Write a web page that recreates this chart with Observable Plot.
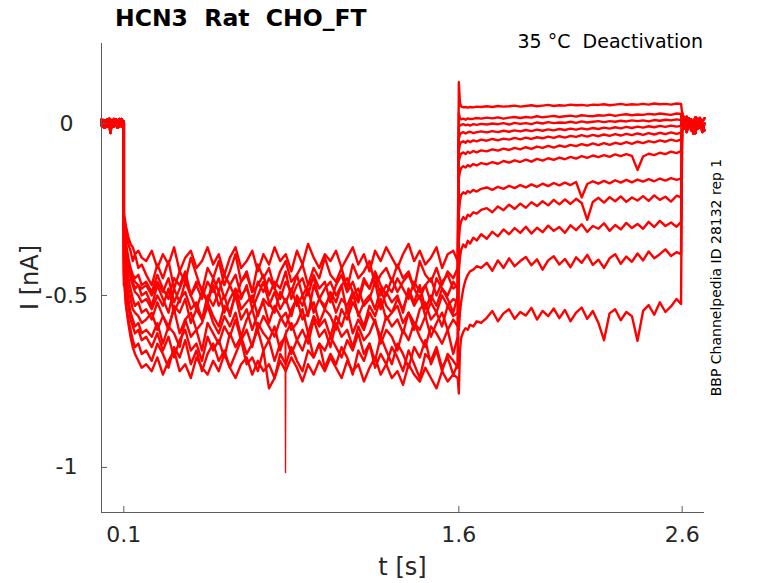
<!DOCTYPE html>
<html><head><meta charset="utf-8">
<script src="https://cdn.jsdelivr.net/npm/d3@7"></script>
<script src="https://cdn.jsdelivr.net/npm/@observablehq/plot@0.6"></script>
<style>body{margin:0;background:#fff}#chart{width:778px;height:583px}</style>
</head><body><div id="chart"></div>
<script>
// ---- text ----
const titleText = "HCN3  Rat  CHO_FT";
const conditionText = "35 °C  Deactivation";
const sideText = "BBP Channelpedia ID 28132 rep 1";
const xLabel = "t [s]";
const yLabel = "I [nA]";
const xTicks = [0.1, 1.6, 2.6];
const xTickLabels = ["0.1", "1.6", "2.6"];
const yTicks = [0, -0.5, -1];
const yTickLabels = ["0", "-0.5", "-1"];
const xDomain = [0, 2.7];
const yDomain = [-1.131, 0.2326];

// ---- time bases (s) ----
const tHold = [0,0.005,0.01,0.015,0.02,0.025,0.03,0.035,0.04,0.045,0.05,0.055,0.06,0.065,0.07,0.075,0.08,0.085,0.09,0.095,0.1];
const tPre = [0.1,0.105,0.11,0.12,0.13,0.14,0.15,0.165,0.18,0.2,
  0.225,0.25,0.275,0.3,0.325,0.35,0.375,0.4,0.425,0.45,0.475,
  0.5,0.525,0.55,0.575,0.6,0.625,0.65,0.675,0.7,0.725,0.75,
  0.775,0.8,0.825,0.85,0.875,0.9,0.925,0.95,0.975,1.0,1.025,
  1.05,1.075,1.1,1.125,1.15,1.175,1.2,1.225,1.25,1.275,1.3,
  1.325,1.35,1.375,1.4,1.425,1.45,1.475,1.5,1.525,1.55,1.575,
  1.595];
const tPost = [1.6,1.605,1.61,1.62,1.63,1.64,1.65,1.665,1.68,1.7,
  1.725,1.75,1.775,1.8,1.825,1.85,1.875,
  1.9,1.925,1.95,1.975,2.0,2.025,2.05,
  2.075,2.1,2.125,2.15,2.175,2.2,2.225,
  2.25,2.275,2.3,2.325,2.35,2.375,2.4,
  2.425,2.45,2.475,2.5,2.525,2.55,2.575,
  2.595];
const tEnd = [2.6,2.61,2.62,2.63,2.64,2.65,2.66,2.67,2.68,2.69,2.7];

// ---- holding current before the step (nA) ----
const holdA = [0.004,-0.008,0.010,-0.004,0.006,-0.010,0.012,-0.002,-0.028,-0.006,0.008,-0.009,0.011,-0.003,0.007,-0.011,0.013,-0.005,0.009,-0.007,0.002];
const holdB = [-0.006,0.009,-0.011,0.007,-0.003,0.012,-0.008,0.005,-0.010,0.010,-0.004,0.013,-0.007,0.009,-0.012,0.006,-0.002,0.011,-0.009,0.008,-0.001];
const holdC = [0.012,-0.003,0.006,-0.012,0.009,0.002,-0.006,0.014,-0.015,0.004,-0.008,0.006,-0.002,0.012,-0.005,0.010,-0.009,0.003,0.013,-0.004,0.006];

// ---- tail after return (nA) ----
const tailA = [0.03,0.01,-0.01,0.015,-0.02,0.005,0.018,-0.015,0.01,-0.025,0.0];
const tailB = [-0.02,0.015,-0.025,0.0,0.012,-0.03,0.008,-0.01,0.016,-0.005,-0.02];
const tailC = [0.0,-0.015,0.02,-0.008,0.01,-0.02,-0.028,0.014,-0.012,0.006,0.015];

// ---- activation step (0.1–1.6 s), one array per sweep ----
const pre1 = [-0.27,-0.30,-0.32,-0.35,-0.37,-0.40,-0.38,-0.42,-0.41,-0.44,
  -0.47,-0.41,-0.45,-0.40,-0.48,-0.43,-0.46,-0.39,-0.44,-0.49,-0.42,
  -0.45,-0.40,-0.47,-0.43,-0.38,-0.46,-0.44,-0.49,-0.41,-0.45,-0.42,
  -0.48,-0.43,-0.40,-0.46,-0.44,-0.41,-0.47,-0.42,-0.45,-0.39,-0.44,
  -0.46,-0.42,-0.48,-0.41,-0.45,-0.43,-0.40,-0.47,-0.44,-0.42,-0.46,
  -0.41,-0.45,-0.43,-0.48,-0.40,-0.44,-0.46,-0.42,-0.47,-0.43,-0.45,
  -0.42];
const pre2 = [-0.30,-0.34,-0.37,-0.41,-0.44,-0.46,-0.48,-0.47,-0.50,-0.49,
  -0.53,-0.47,-0.51,-0.55,-0.48,-0.52,-0.46,-0.50,-0.54,-0.49,-0.52,
  -0.47,-0.53,-0.50,-0.56,-0.49,-0.51,-0.47,-0.54,-0.50,-0.46,-0.52,
  -0.55,-0.49,-0.52,-0.48,-0.53,-0.50,-0.56,-0.47,-0.51,-0.54,-0.49,
  -0.52,-0.47,-0.55,-0.50,-0.48,-0.53,-0.51,-0.46,-0.54,-0.49,-0.52,
  -0.50,-0.55,-0.48,-0.52,-0.47,-0.54,-0.50,-0.53,-0.48,-0.51,-0.55,
  -0.50];
const pre3 = [-0.26,-0.28,-0.30,-0.33,-0.35,-0.36,-0.38,-0.37,-0.39,-0.40,
  -0.37,-0.42,-0.38,-0.41,-0.36,-0.43,-0.39,-0.37,-0.42,-0.40,-0.36,
  -0.41,-0.38,-0.44,-0.39,-0.36,-0.42,-0.40,-0.37,-0.43,-0.38,-0.41,
  -0.36,-0.40,-0.38,-0.43,-0.37,-0.41,-0.35,-0.39,-0.42,-0.38,-0.40,
  -0.37,-0.42,-0.39,-0.36,-0.41,-0.38,-0.43,-0.37,-0.40,-0.36,-0.39,
  -0.42,-0.38,-0.35,-0.40,-0.37,-0.41,-0.39,-0.36,-0.42,-0.38,-0.37,
  -0.40];
const pre4 = [-0.33,-0.37,-0.41,-0.45,-0.48,-0.51,-0.53,-0.52,-0.55,-0.54,
  -0.57,-0.52,-0.56,-0.60,-0.53,-0.55,-0.51,-0.58,-0.54,-0.57,-0.52,
  -0.56,-0.59,-0.53,-0.55,-0.50,-0.57,-0.54,-0.60,-0.55,-0.52,-0.58,
  -0.53,-0.56,-0.59,-0.54,-0.51,-0.57,-0.55,-0.52,-0.58,-0.54,-0.56,
  -0.60,-0.54,-0.57,-0.52,-0.55,-0.59,-0.53,-0.56,-0.51,-0.57,-0.55,
  -0.53,-0.58,-0.55,-0.60,-0.54,-0.52,-0.57,-0.55,-0.59,-0.53,-0.56,
  -0.55];
const pre5 = [-0.29,-0.32,-0.35,-0.39,-0.42,-0.44,-0.45,-0.44,-0.47,-0.46,
  -0.49,-0.44,-0.48,-0.51,-0.45,-0.47,-0.43,-0.50,-0.46,-0.48,-0.52,
  -0.45,-0.49,-0.44,-0.47,-0.51,-0.46,-0.43,-0.49,-0.47,-0.44,-0.50,
  -0.46,-0.48,-0.43,-0.51,-0.47,-0.45,-0.50,-0.44,-0.48,-0.46,-0.52,
  -0.47,-0.44,-0.49,-0.46,-0.51,-0.45,-0.48,-0.43,-0.47,-0.50,-0.45,
  -0.49,-0.46,-0.44,-0.48,-0.51,-0.47,-0.45,-0.50,-0.46,-0.44,-0.48,
  -0.47];
const pre6 = [-0.38,-0.43,-0.47,-0.51,-0.55,-0.57,-0.59,-0.58,-0.61,-0.60,
  -0.62,-0.58,-0.64,-0.59,-0.61,-0.65,-0.57,-0.62,-0.60,-0.66,-0.58,
  -0.61,-0.64,-0.59,-0.62,-0.57,-0.63,-0.60,-0.65,-0.58,-0.61,-0.63,
  -0.59,-0.66,-0.61,-0.58,-0.63,-0.60,-0.64,-0.57,-0.62,-0.60,-0.65,
  -0.58,-0.62,-0.60,-0.65,-0.59,-0.63,-0.61,-0.57,-0.64,-0.60,-0.62,
  -0.66,-0.60,-0.63,-0.58,-0.62,-0.65,-0.59,-0.61,-0.64,-0.60,-0.67,
  -0.62];
const pre7 = [-0.31,-0.35,-0.38,-0.42,-0.45,-0.47,-0.49,-0.50,-0.52,-0.51,
  -0.54,-0.50,-0.53,-0.48,-0.55,-0.51,-0.49,-0.54,-0.52,-0.57,-0.50,
  -0.53,-0.49,-0.55,-0.51,-0.48,-0.54,-0.52,-0.50,-0.56,-0.51,-0.53,
  -0.49,-0.54,-0.51,-0.56,-0.50,-0.53,-0.48,-0.55,-0.51,-0.53,-0.50,
  -0.55,-0.51,-0.53,-0.49,-0.56,-0.52,-0.50,-0.54,-0.48,-0.53,-0.55,
  -0.51,-0.54,-0.49,-0.53,-0.50,-0.56,-0.52,-0.55,-0.50,-0.53,-0.51,
  -0.52];
const pre8 = [-0.44,-0.49,-0.53,-0.57,-0.60,-0.63,-0.65,-0.64,-0.67,-0.66,
  -0.69,-0.64,-0.67,-0.71,-0.65,-0.68,-0.63,-0.70,-0.66,-0.72,-0.67,
  -0.64,-0.69,-0.66,-0.71,-0.67,-0.63,-0.70,-0.68,-0.72,-0.66,-0.77,
  -0.74,-0.67,-0.70,-0.65,-0.69,-0.72,-0.66,-0.68,-0.64,-0.71,-0.67,
  -0.70,-0.65,-0.68,-0.73,-0.66,-0.69,-0.64,-0.71,-0.67,-0.70,-0.65,
  -0.68,-0.72,-0.66,-0.70,-0.74,-0.67,-0.69,-0.65,-0.71,-0.68,-0.73,
  -0.70];
const pre9 = [-0.35,-0.40,-0.44,-0.48,-0.51,-0.54,-0.55,-0.56,-0.58,-0.57,
  -0.55,-0.60,-0.56,-0.59,-0.54,-0.61,-0.57,-0.55,-0.60,-0.58,-0.53,
  -0.58,-0.61,-0.56,-0.59,-0.55,-0.62,-0.57,-0.54,-0.60,-0.56,-0.59,
  -0.62,-0.57,-0.55,-0.60,-0.58,-0.54,-0.61,-0.56,-0.59,-0.57,-0.62,
  -0.56,-0.59,-0.54,-0.61,-0.57,-0.60,-0.55,-0.58,-0.62,-0.56,-0.59,
  -0.57,-0.61,-0.55,-0.58,-0.60,-0.56,-0.62,-0.58,-0.55,-0.60,-0.57,
  -0.59];
const pre10 = [-0.40,-0.45,-0.49,-0.53,-0.57,-0.59,-0.61,-0.60,-0.63,-0.62,
  -0.65,-0.61,-0.66,-0.62,-0.68,-0.63,-0.60,-0.66,-0.64,-0.69,-0.62,
  -0.66,-0.63,-0.68,-0.61,-0.65,-0.62,-0.67,-0.64,-0.60,-0.66,-0.63,
  -0.69,-0.64,-0.62,-0.67,-0.63,-0.66,-0.61,-0.68,-0.64,-0.66,-0.62,
  -0.65,-0.68,-0.63,-0.66,-0.61,-0.67,-0.64,-0.69,-0.62,-0.66,-0.70,
  -0.64,-0.67,-0.71,-0.65,-0.68,-0.63,-0.70,-0.66,-0.72,-0.67,-0.69,
  -0.71];
const pre11 = [-0.47,-0.38,-0.39,-0.41,-0.43,-0.45,-0.46,-0.47,-0.48,-0.47,
  -0.50,-0.46,-0.49,-0.45,-0.52,-0.48,-0.44,-0.50,-0.47,-0.51,-0.46,
  -0.49,-0.45,-0.51,-0.47,-0.44,-0.50,-0.48,-0.52,-0.46,-0.49,-0.45,
  -0.48,-0.51,-0.46,-0.49,-0.44,-0.50,-0.47,-0.45,-0.51,-0.48,-0.46,
  -0.50,-0.47,-0.45,-0.49,-0.52,-0.46,-0.48,-0.44,-0.50,-0.47,-0.49,
  -0.45,-0.48,-0.51,-0.46,-0.49,-0.47,-0.52,-0.45,-0.48,-0.50,-0.46,
  -0.48];
const pre12 = [-0.42,-0.48,-0.53,-0.58,-0.62,-0.65,-0.67,-0.69,-0.71,-0.70,
  -0.72,-0.68,-0.73,-0.69,-0.66,-0.72,-0.70,-0.74,-0.68,-0.71,-0.73,
  -0.69,-0.72,-0.67,-0.71,-0.74,-0.70,-0.68,-0.73,-0.69,-0.72,-0.70,
  -0.74,-0.69,-0.72,-0.68,-0.71,-0.75,-0.70,-0.73,-0.69,-0.72,-0.68,
  -0.71,-0.74,-0.69,-0.72,-0.70,-0.75,-0.71,-0.68,-0.73,-0.70,-0.74,
  -0.72,-0.76,-0.70,-0.73,-0.75,-0.71,-0.74,-0.77,-0.72,-0.75,-0.73,
  -0.74];

// ---- deactivation step (1.6–2.6 s) ----
const post1 = [0.12,0.06,0.050,0.047,0.048,0.046,0.048,0.047,0.049,0.048,
  0.050,0.048,0.051,0.049,0.050,0.052,0.049,
  0.051,0.053,0.050,0.052,0.054,0.051,0.053,
  0.052,0.055,0.053,0.054,0.052,0.055,0.054,
  0.056,0.053,0.055,0.057,0.054,0.056,0.055,
  0.057,0.055,0.058,0.056,0.057,0.055,0.058,
  0.057];
const post2 = [0.03,0.016,0.012,0.014,0.011,0.015,0.013,0.014,0.016,0.014,
  0.017,0.015,0.018,0.014,0.017,0.019,0.016,
  0.019,0.017,0.021,0.018,0.020,0.022,0.019,
  0.021,0.023,0.020,0.024,0.022,0.021,0.024,
  0.023,0.026,0.022,0.025,0.027,0.024,0.026,
  0.025,0.028,0.026,0.029,0.027,0.025,0.029,
  0.028];
const post3 = [-0.01,-0.006,-0.004,-0.002,-0.005,-0.003,-0.006,-0.002,-0.004,-0.001,
  -0.003,0.000,-0.002,0.001,-0.003,0.002,-0.001,
  0.001,-0.002,0.003,0.000,0.004,0.001,0.003,
  0.002,0.005,0.002,0.006,0.003,0.005,0.007,
  0.004,0.007,0.005,0.008,0.006,0.009,0.007,
  0.009,0.006,0.010,0.008,0.011,0.009,0.012,
  0.010];
const post4 = [-0.045,-0.032,-0.028,-0.025,-0.029,-0.026,-0.024,-0.028,-0.025,-0.023,
  -0.026,-0.022,-0.025,-0.021,-0.024,-0.020,-0.023,
  -0.019,-0.022,-0.018,-0.021,-0.017,-0.020,-0.016,
  -0.019,-0.015,-0.018,-0.014,-0.017,-0.013,-0.016,
  -0.012,-0.015,-0.011,-0.014,-0.010,-0.013,-0.009,
  -0.012,-0.008,-0.011,-0.007,-0.010,-0.006,-0.009,
  -0.007];
const post5 = [-0.08,-0.06,-0.055,-0.052,-0.056,-0.050,-0.054,-0.049,-0.052,-0.047,
  -0.050,-0.045,-0.049,-0.044,-0.047,-0.042,-0.046,
  -0.041,-0.045,-0.040,-0.043,-0.038,-0.042,-0.037,
  -0.041,-0.036,-0.039,-0.034,-0.038,-0.033,-0.037,
  -0.032,-0.036,-0.031,-0.035,-0.030,-0.034,-0.029,
  -0.033,-0.028,-0.032,-0.027,-0.031,-0.026,-0.030,
  -0.027];
const post6 = [-0.11,-0.095,-0.088,-0.084,-0.089,-0.082,-0.086,-0.080,-0.084,-0.078,
  -0.081,-0.075,-0.079,-0.073,-0.077,-0.071,-0.075,
  -0.069,-0.074,-0.067,-0.071,-0.065,-0.070,-0.064,
  -0.068,-0.062,-0.066,-0.060,-0.064,-0.058,-0.063,
  -0.057,-0.062,-0.056,-0.060,-0.054,-0.059,-0.053,
  -0.057,-0.051,-0.055,-0.049,-0.053,-0.047,-0.051,
  -0.046];
const post7 = [-0.16,-0.14,-0.130,-0.124,-0.128,-0.121,-0.125,-0.118,-0.122,-0.115,
  -0.119,-0.112,-0.117,-0.109,-0.114,-0.107,-0.112,
  -0.105,-0.111,-0.103,-0.108,-0.101,-0.106,-0.099,
  -0.104,-0.097,-0.102,-0.095,-0.100,-0.093,-0.098,
  -0.092,-0.097,-0.090,-0.095,-0.089,-0.094,-0.135,
  -0.096,-0.088,-0.092,-0.085,-0.089,-0.082,-0.086,
  -0.080];
const post8 = [-0.26,-0.225,-0.208,-0.200,-0.204,-0.196,-0.201,-0.193,-0.198,-0.190,
  -0.186,-0.193,-0.184,-0.190,-0.181,-0.188,-0.179,
  -0.186,-0.177,-0.184,-0.175,-0.182,-0.173,-0.180,
  -0.172,-0.179,-0.170,-0.215,-0.176,-0.168,-0.175,
  -0.167,-0.174,-0.165,-0.172,-0.164,-0.171,-0.163,
  -0.169,-0.162,-0.168,-0.160,-0.166,-0.159,-0.164,
  -0.160];
const post9 = [-0.34,-0.30,-0.285,-0.272,-0.279,-0.265,-0.270,-0.258,-0.262,-0.251,
  -0.246,-0.258,-0.241,-0.252,-0.236,-0.248,-0.233,
  -0.245,-0.229,-0.240,-0.226,-0.238,-0.222,-0.235,
  -0.221,-0.234,-0.219,-0.231,-0.280,-0.228,-0.216,
  -0.230,-0.214,-0.226,-0.212,-0.228,-0.215,-0.224,
  -0.211,-0.225,-0.209,-0.222,-0.213,-0.227,-0.210,
  -0.215];
const post10 = [-0.43,-0.39,-0.368,-0.352,-0.360,-0.341,-0.349,-0.332,-0.340,-0.322,
  -0.335,-0.315,-0.328,-0.308,-0.322,-0.304,-0.318,
  -0.300,-0.320,-0.303,-0.316,-0.297,-0.312,-0.301,
  -0.318,-0.296,-0.310,-0.293,-0.315,-0.298,-0.306,
  -0.290,-0.312,-0.295,-0.308,-0.289,-0.304,-0.292,
  -0.306,-0.286,-0.301,-0.283,-0.298,-0.288,-0.300,
  -0.287];
const post11 = [-0.60,-0.55,-0.52,-0.48,-0.455,-0.44,-0.43,-0.425,-0.415,-0.42,
  -0.405,-0.428,-0.398,-0.420,-0.392,-0.415,-0.400,
  -0.388,-0.412,-0.395,-0.425,-0.398,-0.386,-0.410,
  -0.394,-0.418,-0.389,-0.405,-0.382,-0.411,-0.396,
  -0.420,-0.392,-0.380,-0.408,-0.387,-0.402,-0.378,
  -0.398,-0.372,-0.392,-0.380,-0.366,-0.385,-0.374,
  -0.380];
const post12 = [-0.785,-0.66,-0.625,-0.605,-0.595,-0.60,-0.585,-0.59,-0.575,-0.58,
  -0.565,-0.545,-0.575,-0.552,-0.540,-0.568,-0.548,
  -0.558,-0.536,-0.570,-0.545,-0.560,-0.538,-0.566,
  -0.542,-0.575,-0.550,-0.535,-0.568,-0.545,-0.580,
  -0.630,-0.552,-0.540,-0.572,-0.548,-0.560,-0.632,
  -0.545,-0.528,-0.556,-0.520,-0.548,-0.532,-0.510,
  -0.525];

// single artefact spike in one sweep
const spikeT = [0.822, 0.824, 0.826];
const spikeI = [-0.62, -1.015, -0.60];

// ---- assemble ----
const sweeps = [
  [pre1, post1], [pre2, post2], [pre3, post3], [pre4, post4],
  [pre5, post5], [pre6, post6], [pre7, post7], [pre8, post8],
  [pre9, post9], [pre10, post10], [pre11, post11], [pre12, post12]
];
const holds = [holdA, holdB, holdC];
const tails = [tailA, tailB, tailC];
const rows = [];
function addSeg(id, ts, vs) {
  if (ts.length !== vs.length) throw new Error(`length mismatch in sweep ${id}: ${ts.length} vs ${vs.length}`);
  ts.forEach((t, i) => rows.push({sweep: id, t, I: vs[i]}));
}
sweeps.forEach(([pre, post], k) => {
  addSeg(k, tHold, holds[k % 3]);
  addSeg(k, tPre, pre);
  addSeg(k, tPost, post);
  addSeg(k, tEnd, tails[k % 3]);
});
const spikeRows = spikeT.map((t, i) => ({sweep: 99, t, I: spikeI[i]}));

const W = 778, H = 583;
const mL = 101, mR = 74, mT = 43, mB = 71;
const frameW = W - mL - mR, frameH = H - mT - mB;
const axisColor = "#5c5c5c", textColor = "#262626";
const font = "'DejaVu Sans', sans-serif";

const chart = Plot.plot({
  width: W, height: H,
  marginLeft: mL, marginRight: mR, marginTop: mT, marginBottom: mB,
  style: {fontFamily: font, background: "#fff", overflow: "visible"},
  x: {domain: xDomain, axis: null},
  y: {domain: yDomain, axis: null},
  marks: [
    Plot.line(rows, {x: "t", y: "I", z: "sweep", stroke: "#ff0000", strokeWidth: 2.4, strokeLinejoin: "round", curve: "linear"}),
    Plot.line(spikeRows, {x: "t", y: "I", stroke: "#ff0000", strokeWidth: 1.3}),
    Plot.ruleX([xDomain[0]], {stroke: axisColor, strokeWidth: 1}),
    Plot.ruleY([yDomain[0]], {stroke: axisColor, strokeWidth: 1}),
    Plot.tickX(xTicks, {x: d => d, insetTop: frameH - 6, stroke: axisColor}),
    Plot.tickY(yTicks, {y: d => d, insetRight: frameW - 6, stroke: axisColor}),
    Plot.text(xTicks, {x: d => d, frameAnchor: "bottom", dy: 14, lineAnchor: "top",
      text: (d, i) => xTickLabels[i], fontSize: 22, fill: textColor}),
    Plot.text(yTicks, {y: d => d, frameAnchor: "left", dx: -35, textAnchor: "middle",
      text: (d, i) => yTickLabels[i], fontSize: 22, fill: textColor})
  ]
});
document.getElementById("chart").append(chart);

const svg = d3.select(chart);
svg.append("text").attr("x", 115).attr("y", 26).attr("text-anchor", "start")
  .style("white-space", "pre").attr("font-family", font).attr("font-weight", "bold")
  .attr("font-size", 23.5).attr("fill", "#000").text(titleText);
svg.append("text").attr("x", 703).attr("y", 48).attr("text-anchor", "end")
  .style("white-space", "pre").attr("font-family", font)
  .attr("font-size", 19).attr("fill", "#000").text(conditionText);
svg.append("text").attr("transform", "translate(721,277.5) rotate(-90)").attr("text-anchor", "middle")
  .attr("font-family", font).attr("font-size", 14).attr("fill", "#000").text(sideText);
svg.append("text").attr("transform", "translate(38,277.5) rotate(-90)").attr("text-anchor", "middle")
  .attr("font-family", font).attr("font-size", 24).attr("fill", textColor).text(yLabel);
svg.append("text").attr("x", 402.5).attr("y", 575).attr("text-anchor", "middle")
  .attr("font-family", font).attr("font-size", 24).attr("fill", textColor).text(xLabel);
</script>
</body></html>
